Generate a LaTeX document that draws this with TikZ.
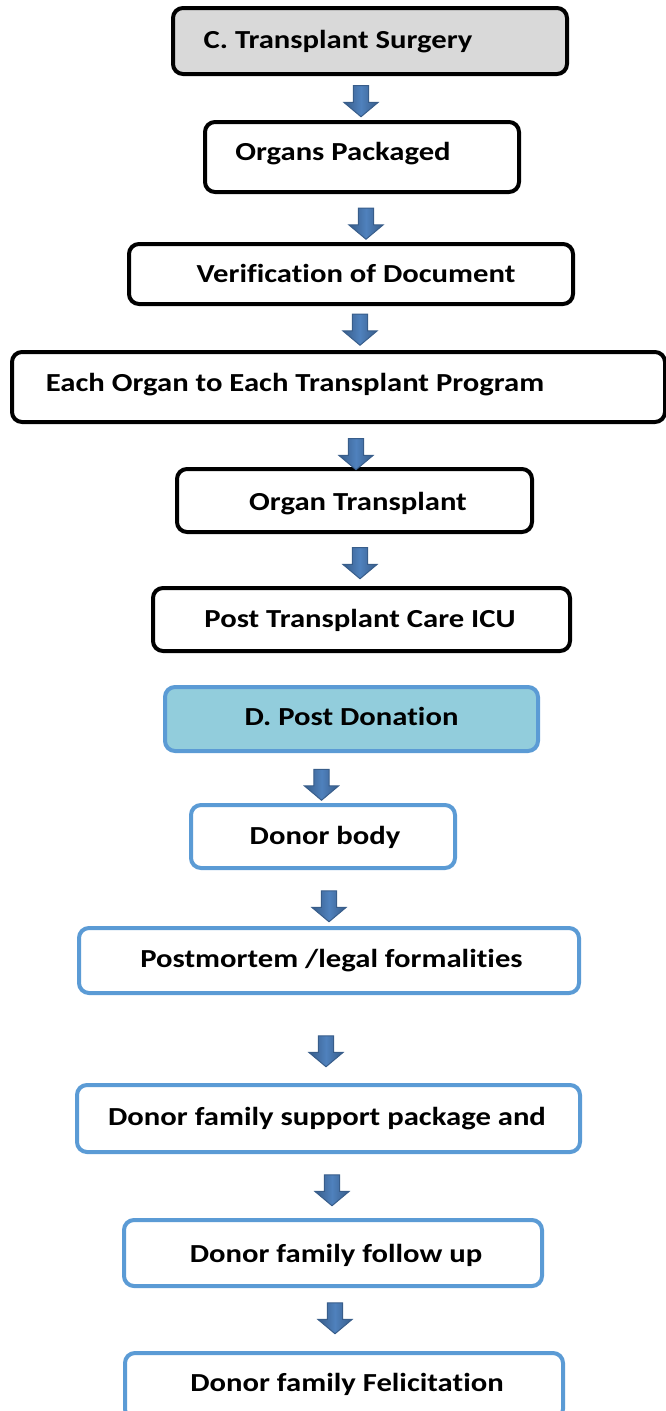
\documentclass[tikz,border=0pt]{standalone}
\usepackage{fontspec}
\setmainfont{Carlito}[Ligatures={NoCommon,NoRare,NoDiscretionary}]
\usetikzlibrary{shapes.arrows}
\definecolor{arrowblue}{HTML}{4F81BD}
\definecolor{arrowdark}{HTML}{385D8A}
\definecolor{boxgray}{HTML}{D9D9D9}
\definecolor{boxblue}{HTML}{5B9BD5}
\definecolor{lightblue}{HTML}{92CDDC}
\newcommand\tx[1]{\scalebox{1.18}[1]{#1}}
\tikzset{
  basebox/.style={rounded corners=10pt, line width=4pt, inner sep=0pt},
  blackbox/.style={basebox, draw=black, fill=white},
  graybox/.style={basebox, draw=black, fill=boxgray},
  bluebox/.style={basebox, draw=boxblue, fill=white},
  headbox/.style={basebox, draw=boxblue, fill=lightblue},
  lbl/.style={font=\fontsize{26}{30}\selectfont\bfseries, inner sep=0pt, anchor=base},
  barrow/.style={single arrow, shape border rotate=270, draw=arrowdark, line width=1pt,
    left color=arrowdark, right color=arrowdark, middle color=arrowblue,
    inner sep=7pt, single arrow head extend=9pt, minimum height=31pt,
    minimum width=34pt, single arrow tip angle=100}
}
\newcommand\bx[6]{\node[#6, minimum width=#4pt, minimum height=#5pt] (#1) at (#2,-#3) {};}
\begin{document}
\begin{tikzpicture}[x=1pt,y=1pt]
\useasboundingbox (0,0) rectangle (665,-1411);
% boxes
\bx{c}{370}{41}{394}{66}{graybox}
\bx{op}{362}{157}{314}{70}{blackbox}
\bx{vd}{351}{274}{444}{60}{blackbox}
\bx{eo}{338.5}{387}{653}{70}{blackbox}
\bx{ot}{354.5}{500.5}{355}{63}{blackbox}
\bx{pt}{361.5}{619.5}{417}{63}{blackbox}
\bx{d}{351.5}{719}{373}{64}{headbox}
\bx{db}{323}{836.5}{264}{63}{bluebox}
\bx{pm}{329}{960.5}{500}{65}{bluebox}
\bx{df}{328.5}{1118.5}{503}{67}{bluebox}
\bx{fu}{333}{1253}{418}{66}{bluebox}
\bx{fe}{344}{1386}{438}{66}{bluebox}
% labels
\node[lbl] (tc) at (338,-48) {\tx{C. Transplant Surgery}};
\node[lbl] (top) at (343,-160) {\tx{Organs Packaged}};
\node[lbl] (tvd) at (356,-282) {\tx{Verification of Document}};
\node[lbl] (teo) at (295,-391) {\tx{Each Organ to Each Transplant Program}};
\node[lbl] (tot) at (358,-510) {\tx{Organ Transplant}};
\node[lbl] (tpt) at (360,-627) {\tx{Post Transplant Care ICU}};
\node[lbl] (td) at (351.5,-725) {\tx{D. Post Donation}};
\node[lbl] (tdb) at (325,-844) {\tx{Donor body}};
\node[lbl] (tpm) at (331.5,-967) {\tx{Postmortem /legal formalities}};
\node[lbl] (tdf) at (327,-1125) {\tx{Donor family support package and}};
\node[lbl] (tfu) at (336,-1262) {\tx{Donor family follow up}};
\node[lbl] (tfe) at (347,-1391) {\tx{Donor family Felicitation}};
% arrows
\node[barrow] (a1) at (361,-98) {};
\node[barrow] (a2) at (366,-220.5) {};
\node[barrow] (a3) at (360,-326.5) {};
\node[barrow] (a4) at (356,-451) {};
\node[barrow] (a5) at (360,-560) {};
\node[barrow] (a6) at (321.5,-781.5) {};
\node[barrow] (a7) at (329,-903) {};
\node[barrow] (a8) at (326,-1048) {};
\node[barrow] (a9) at (332,-1187) {};
\node[barrow] (a10) at (335,-1315) {};
\end{tikzpicture}
\end{document}
